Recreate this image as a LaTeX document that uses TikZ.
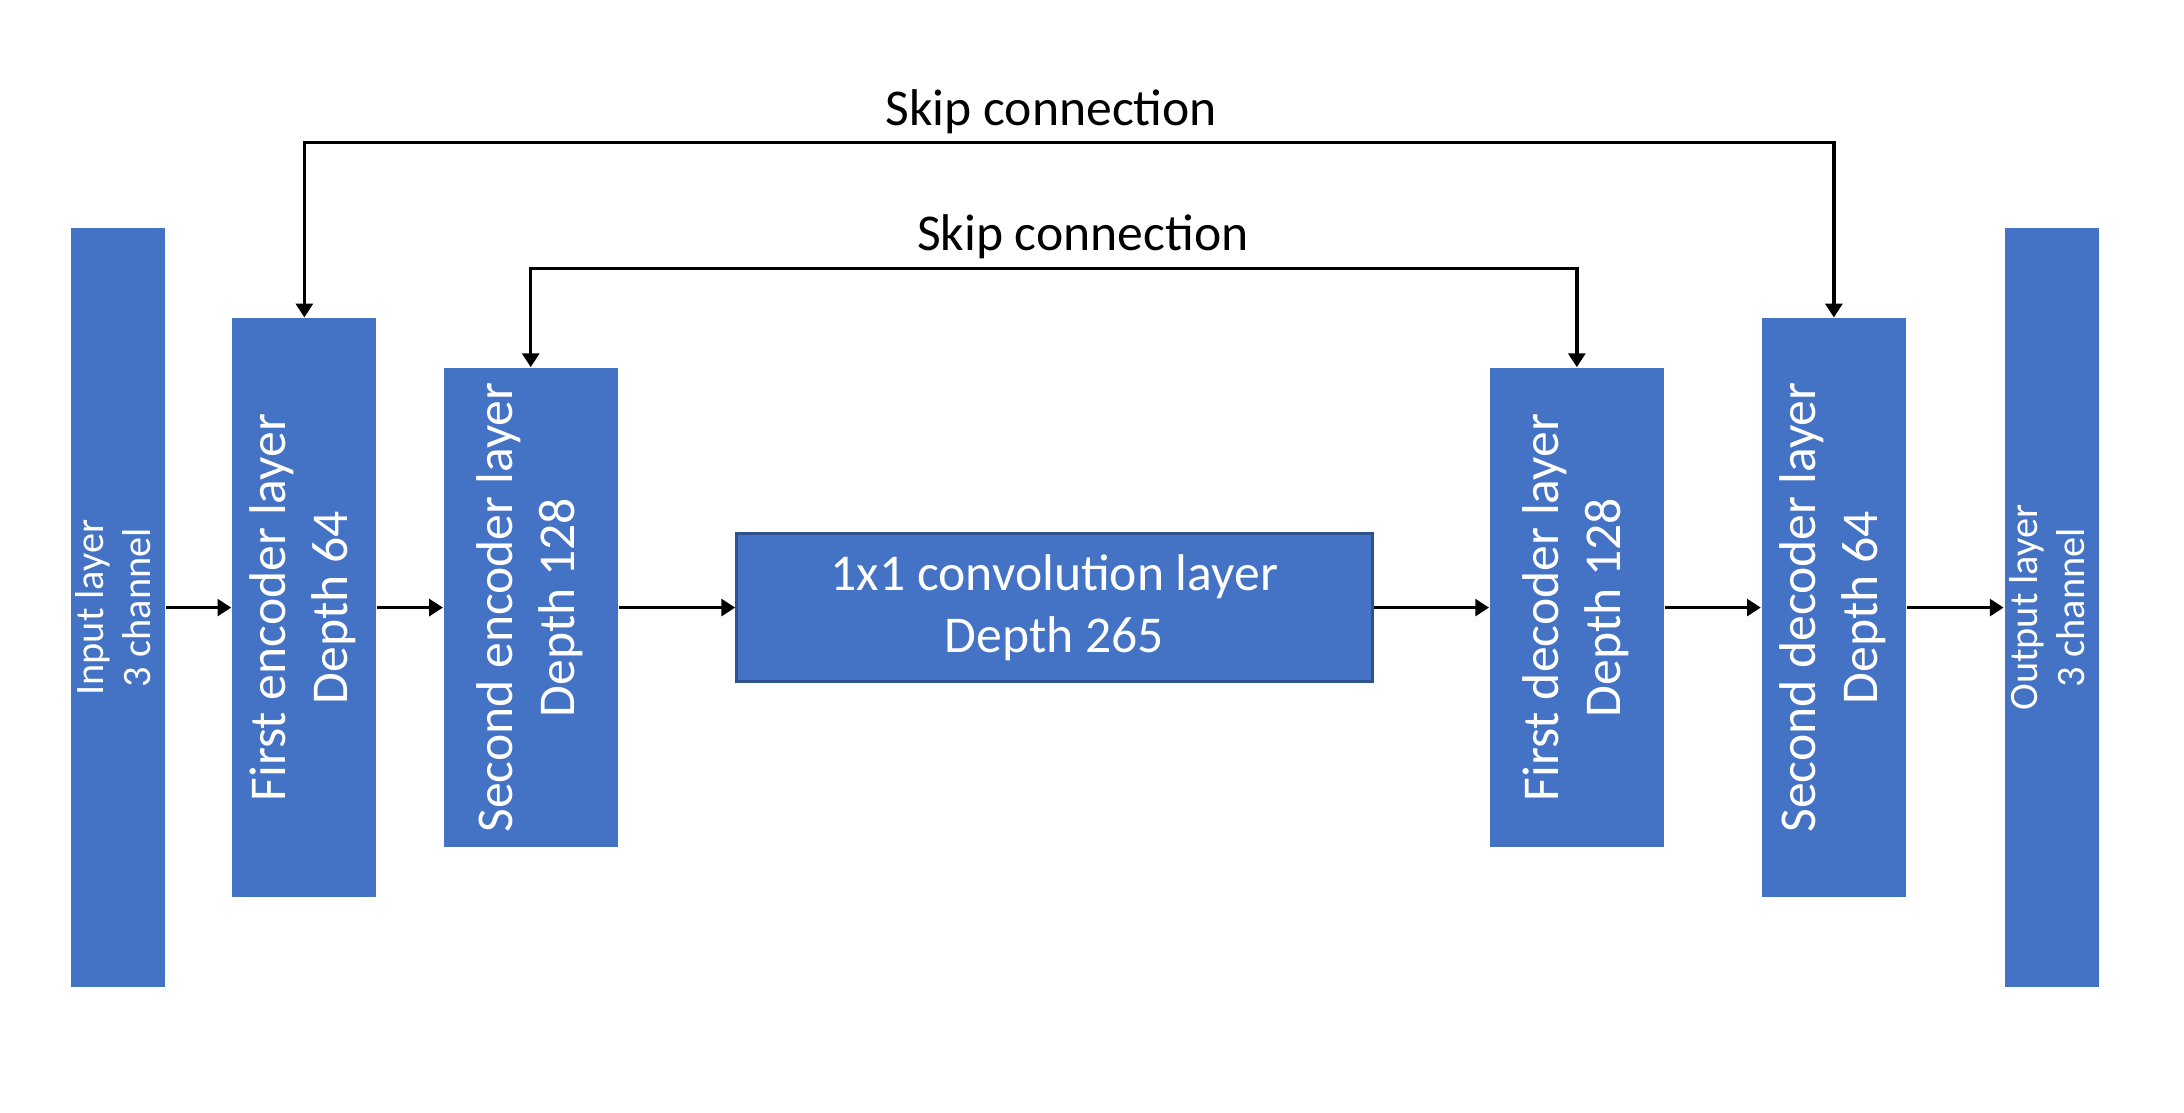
\documentclass[tikz,border=0pt]{standalone}
\usepackage{fontspec}
\setmainfont{Carlito}
\usetikzlibrary{arrows.meta}
\definecolor{layerblue}{HTML}{4472C4}
\definecolor{layerline}{HTML}{2F528F}
\tikzset{
  layer/.style={fill=layerblue, text=white, inner sep=0pt, font=\fontsize{10.5}{12.6}\selectfont},
  iolayer/.style={layer, font=\fontsize{8.2}{9.6}\selectfont},
  flow/.style={-{Triangle[length=2.8pt,width=3.4pt]}, line width=0.7pt},
  skip/.style={{Triangle[length=2.8pt,width=3.4pt]}-{Triangle[length=2.8pt,width=3.4pt]}, line width=0.7pt},
}
\newcommand{\vlabel}[2]{\rotatebox{90}{\begin{tabular}{@{}c@{}}#1\\#2\end{tabular}}}
\begin{document}
\begin{tikzpicture}
\useasboundingbox (0,0) rectangle (15.6,7.95);
% layers
\node[iolayer, minimum width=0.67cm, minimum height=5.42cm] (input) at (0.841,3.61) {\vlabel{Input layer}{3 channel}};
\node[layer, minimum width=1.03cm, minimum height=4.13cm] (enc1) at (2.174,3.61) {\vlabel{First encoder layer}{Depth 64}};
\node[layer, minimum width=1.24cm, minimum height=3.42cm] (enc2) at (3.791,3.61) {\vlabel{Second encoder layer}{Depth 128}};
\node[layer, draw=layerline, line width=0.6pt, minimum width=4.54cm, minimum height=1.06cm, align=center] (conv) at (7.532,3.61) {1x1 convolution layer\\Depth 265};
\node[layer, minimum width=1.24cm, minimum height=3.42cm] (dec1) at (11.263,3.61) {\vlabel{First decoder layer}{Depth 128}};
\node[layer, minimum width=1.03cm, minimum height=4.13cm] (dec2) at (13.099,3.61) {\vlabel{Second decoder layer}{Depth 64}};
\node[iolayer, minimum width=0.66cm, minimum height=5.42cm] (output) at (14.656,3.61) {\vlabel{Output layer}{3 channel}};
% forward path
\draw[flow] (input) -- (enc1);
\draw[flow] (enc1) -- (enc2);
\draw[flow] (enc2) -- (conv);
\draw[flow] (conv) -- (dec1);
\draw[flow] (dec1) -- (dec2);
\draw[flow] (dec2) -- (output);
% skip connections
\coordinate (outer) at (7.63,6.93);
\coordinate (inner) at (7.53,6.03);
\draw[skip] (enc1.north) |- (outer) -| (dec2.north);
\draw[skip] (enc2.north) |- (inner) -| (dec1.north);
\node[font=\fontsize{10.5}{12.6}\selectfont] (outerlabel) at (7.51,7.15) {Skip connection};
\node[font=\fontsize{10.5}{12.6}\selectfont] (innerlabel) at (7.735,6.26) {Skip connection};
\end{tikzpicture}
\end{document}
